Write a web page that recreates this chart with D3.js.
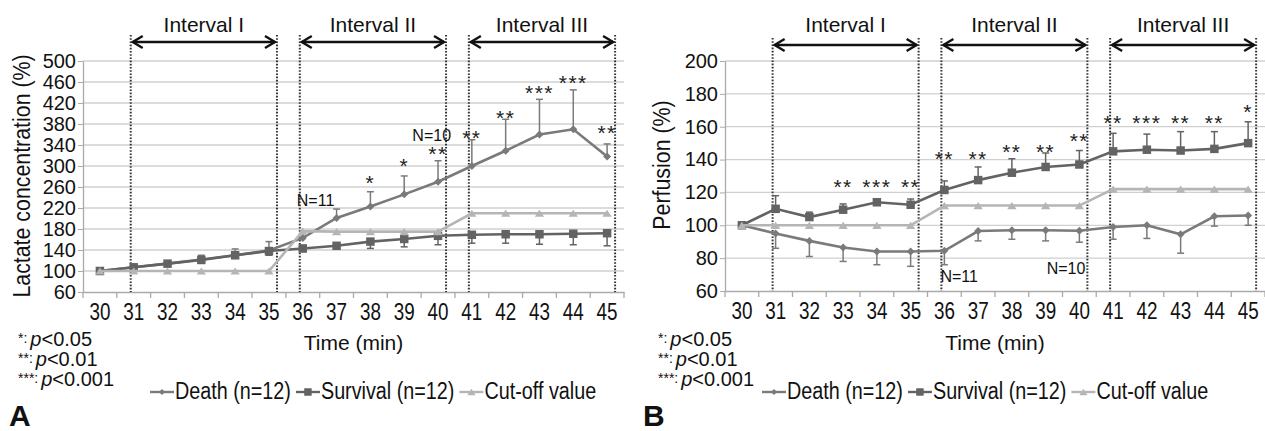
<!DOCTYPE html>
<html>
<head>
<meta charset="utf-8">
<script src="https://cdn.jsdelivr.net/npm/d3@7"></script>
<style>
  body { margin: 0; background: #fff; }
  svg { font-family: "Liberation Sans", Arial, sans-serif; }
</style>
</head>
<body>
<svg id="chart" width="1265" height="431"></svg>
<script>
/* CONSTANTS AND GLOBALS */
const width = 1265,
  height = 431;

// time axis (min)
const times = ["30", "31", "32", "33", "34", "35", "36", "37", "38", "39", "40", "41", "42", "43", "44", "45"];

// panel A : lactate concentration (%)
const lactateTicks = [60, 100, 140, 180, 220, 260, 300, 340, 380, 420, 460, 500];
const lactateDeath = [100, 107, 114, 122, 130, 139, 163, 201, 223, 246, 270, 300, 329, 360, 370, 318];
const lactateDeathErr = [0, 3, 4, 8, 12, 17, 12, 17, 28, 35, 40, 50, 60, 67, 75, 24];
const lactateSurvival = [100, 107, 114, 121, 130, 138, 143, 148, 156, 161, 167, 169, 170, 170, 171, 172];
const lactateSurvivalErr = [0, 3, 4, 5, 6, 8, 6, 6, 13, 15, 17, 16, 17, 19, 21, 24];
const lactateCutoff = [100, 100, 100, 100, 100, 100, 176, 175, 175, 175, 175, 210, 210, 210, 210, 210];
const lactateStars = ["", "", "", "", "", "", "", "", "*", "*", "**", "**", "**", "***", "***", "**"];
const lactateStarLevel = [null, null, null, null, null, null, null, null, 254, 287, 309, 340, 378, 426, 445, 349];

// panel B : perfusion (%)
const perfusionTicks = [60, 80, 100, 120, 140, 160, 180, 200];
const perfusionDeath = [100, 95, 90.5, 86.5, 84, 84, 84.5, 96.5, 97, 97, 96.7, 99, 100, 94.5, 105.5, 106];
const perfusionDeathErr = [0, 9, 9.5, 8.5, 8, 9, 8.5, 6, 5.5, 6.5, 7, 7.5, 8, 11.5, 6, 6];
const perfusionSurvival = [100, 110, 105, 109.5, 114, 112.5, 121.5, 127.5, 132, 135.5, 137, 145, 146, 145.5, 146.5, 150];
const perfusionSurvivalErr = [0, 8, 3, 3.5, 2, 3.5, 5.5, 8, 8.5, 8.5, 8.5, 11, 9.5, 11.5, 10.5, 13];
const perfusionCutoff = [100, 100, 100, 100, 100, 100, 112, 112, 112, 112, 112, 122, 122, 122, 122, 122];
const perfusionStars = ["", "", "", "**", "***", "**", "**", "**", "**", "**", "**", "**", "***", "**", "**", "*"];
const perfusionStarLevel = [null, null, null, 119, 119, 119, 136, 136, 140.5, 140.5, 147, 158, 158, 158, 158, 164.5];

// intervals, legend, significance notes
const intervalLabels = ["Interval I", "Interval II", "Interval III"];
const intervalFrom = ["31", "36", "41"];
const intervalTo = ["35", "40", "45"];
const legendLabels = ["Death (n=12)", "Survival (n=12)", "Cut-off value"];
const noteStars = ["*:", "**:", "***:"];
const noteValues = ["<0.05", "<0.01", "<0.001"];

/* STYLES */
const seriesStyle = [
  { color: "#7a7a7a", marker: "diamond" },   // death
  { color: "#636363", marker: "square" },    // survival
  { color: "#b5b5b5", marker: "triangle" }   // cut-off
];

const diamond = { draw(ctx, size) { const r = Math.sqrt(size) / 2; ctx.moveTo(0, -r); ctx.lineTo(r, 0); ctx.lineTo(0, r); ctx.lineTo(-r, 0); ctx.closePath(); } };
const triangle = { draw(ctx, size) { const r = Math.sqrt(size) / 2; ctx.moveTo(0, -r * 0.85); ctx.lineTo(r * 1.1, r * 0.85); ctx.lineTo(-r * 1.1, r * 0.85); ctx.closePath(); } };
const markerType = { diamond: diamond, square: d3.symbolSquare, triangle: triangle };

/* PANELS */
const panels = [
  {
    letter: "A", letterX: 9, left: 83, right: 624, top: 61, bottom: 292, arrowY: 42,
    yTicks: lactateTicks, yTitle: "Lactate concentration (%)", yTitleX: 22, yTitleY: 176,
    series: [
      { values: lactateDeath, err: lactateDeathErr, dir: 1 },
      { values: lactateSurvival, err: lactateSurvivalErr, dir: -1 },
      { values: lactateCutoff, err: null, dir: 0 }
    ],
    stars: lactateStars, starLevel: lactateStarLevel,
    nLabels: [
      { text: "N=11", t: "36", v: 224, anchor: "start", dx: -6 },
      { text: "N=10", t: "40", v: 348, anchor: "end", dx: 13 }
    ],
    noteX: 18, legendX: 150
  },
  {
    letter: "B", letterX: 643, left: 725, right: 1265, top: 61, bottom: 291, arrowY: 45,
    yTicks: perfusionTicks, yTitle: "Perfusion (%)", yTitleX: 662, yTitleY: 165,
    series: [
      { values: perfusionDeath, err: perfusionDeathErr, dir: -1 },
      { values: perfusionSurvival, err: perfusionSurvivalErr, dir: 1 },
      { values: perfusionCutoff, err: null, dir: 0 }
    ],
    stars: perfusionStars, starLevel: perfusionStarLevel,
    nLabels: [
      { text: "N=11", t: "36", v: 65.5, anchor: "start", dx: -4 },
      { text: "N=10", t: "40", v: 70.3, anchor: "end", dx: 6 }
    ],
    noteX: 658, legendX: 762
  }
];

let svg;

/* INIT */
function init() {
  svg = d3.select("#chart").attr("width", width).attr("height", height);
  panels.forEach(drawPanel);
}

/* DRAW ONE PANEL */
function drawPanel(cfg) {
  const g = svg.append("g");

  const xScale = d3.scaleBand().domain(times).range([cfg.left, cfg.right]);
  const yScale = d3.scaleLinear().domain(d3.extent(cfg.yTicks)).range([cfg.bottom, cfg.top]);
  const cx = t => xScale(t) + xScale.bandwidth() / 2;

  // + GRIDLINES
  g.append("g")
    .selectAll("line")
    .data(cfg.yTicks.slice(1))
    .join("line")
    .attr("x1", cfg.left).attr("x2", cfg.right)
    .attr("y1", d => yScale(d)).attr("y2", d => yScale(d))
    .attr("stroke", "#d0d0d0").attr("stroke-width", 1.3);

  // + Y AXIS
  const yAxis = d3.axisLeft(yScale).tickValues(cfg.yTicks).tickSize(5).tickSizeOuter(0).tickPadding(2);
  g.append("g")
    .attr("transform", `translate(${cfg.left},0)`)
    .call(yAxis)
    .call(a => a.select(".domain").attr("stroke", "#aaa").attr("stroke-width", 1.3))
    .call(a => a.selectAll(".tick line").attr("stroke", "#aaa"))
    .call(a => a.selectAll(".tick text")
      .attr("font-size", 20).attr("fill", "#111")
      .attr("font-family", "'Liberation Sans', Arial, sans-serif"));

  // + X AXIS (tall, condensed labels)
  const xAxis = d3.axisBottom(xScale).tickSize(0).tickSizeOuter(0).tickPadding(12);
  g.append("g")
    .attr("transform", `translate(0,${cfg.bottom})`)
    .call(xAxis)
    .call(a => a.select(".domain").attr("stroke", "#aaa").attr("stroke-width", 1.3))
    .call(a => a.selectAll(".tick text")
      .attr("font-size", 23).attr("fill", "#111")
      .attr("font-family", "'Liberation Sans', Arial, sans-serif")
      .attr("transform", "scale(0.82,1)"));

  // boundary ticks between the time bands
  g.append("g")
    .selectAll("line")
    .data(times.map(t => xScale(t)).concat([cfg.right]))
    .join("line")
    .attr("x1", d => d).attr("x2", d => d)
    .attr("y1", cfg.bottom).attr("y2", cfg.bottom + 6)
    .attr("stroke", "#aaa").attr("stroke-width", 1.3);

  // + INTERVALS (dotted bounds, arrows, labels)
  const intervals = intervalLabels.map((label, i) => ({
    label,
    x0: cx(intervalFrom[i]) - 3,
    x1: cx(intervalTo[i]) + 8
  }));

  const iv = g.append("g").selectAll("g").data(intervals).join("g");

  iv.selectAll("line.bound")
    .data(d => [d.x0, d.x1])
    .join("line")
    .attr("class", "bound")
    .attr("x1", d => d).attr("x2", d => d)
    .attr("y1", cfg.arrowY - 7).attr("y2", cfg.bottom)
    .attr("stroke", "#333").attr("stroke-width", 2).attr("stroke-dasharray", "1.6,1.6");

  iv.append("line")
    .attr("x1", d => d.x0 + 2).attr("x2", d => d.x1 - 2)
    .attr("y1", cfg.arrowY).attr("y2", cfg.arrowY)
    .attr("stroke", "#111").attr("stroke-width", 2.4);

  iv.append("path")
    .attr("d", d => `M${d.x0 + 12},${cfg.arrowY - 6}L${d.x0 + 2},${cfg.arrowY}L${d.x0 + 12},${cfg.arrowY + 6}` +
      `M${d.x1 - 12},${cfg.arrowY - 6}L${d.x1 - 2},${cfg.arrowY}L${d.x1 - 12},${cfg.arrowY + 6}`)
    .attr("fill", "none").attr("stroke", "#111").attr("stroke-width", 2.4);

  iv.append("text")
    .attr("x", d => (d.x0 + d.x1) / 2)
    .attr("y", 32)
    .attr("text-anchor", "middle")
    .attr("font-size", 21).attr("fill", "#111")
    .text(d => d.label);

  // + SERIES
  cfg.series.forEach((s, si) => {
    const style = seriesStyle[si];
    const pts = times.map((t, i) => ({ t, v: s.values[i], e: s.err ? s.err[i] : 0 }));
    const sg = g.append("g");

    // error bars (one side only)
    if (s.err) {
      const eb = sg.selectAll("g.err").data(pts.filter(d => d.e > 0)).join("g").attr("class", "err");
      eb.append("line")
        .attr("x1", d => cx(d.t)).attr("x2", d => cx(d.t))
        .attr("y1", d => yScale(d.v)).attr("y2", d => yScale(d.v + s.dir * d.e))
        .attr("stroke", style.color).attr("stroke-width", 1.5);
      eb.append("line")
        .attr("x1", d => cx(d.t) - 3.5).attr("x2", d => cx(d.t) + 3.5)
        .attr("y1", d => yScale(d.v + s.dir * d.e)).attr("y2", d => yScale(d.v + s.dir * d.e))
        .attr("stroke", style.color).attr("stroke-width", 1.5);
    }

    const line = d3.line().x(d => cx(d.t)).y(d => yScale(d.v));
    sg.append("path")
      .datum(pts)
      .attr("d", line)
      .attr("fill", "none")
      .attr("stroke", style.color)
      .attr("stroke-width", 2.6);

    sg.selectAll("path.mark")
      .data(pts)
      .join("path")
      .attr("class", "mark")
      .attr("transform", d => `translate(${cx(d.t)},${yScale(d.v)})`)
      .attr("d", d3.symbol().type(markerType[style.marker]).size(style.marker === "diamond" ? 64 : 72))
      .attr("fill", style.color);
  });

  // + SIGNIFICANCE STARS
  g.append("g")
    .selectAll("text")
    .data(times.map((t, i) => ({ t, s: cfg.stars[i], v: cfg.starLevel[i] })).filter(d => d.s))
    .join("text")
    .attr("x", d => cx(d.t))
    .attr("y", d => yScale(d.v))
    .attr("text-anchor", "middle")
    .attr("font-size", 21)
    .attr("letter-spacing", 1.5)
    .attr("fill", "#222")
    .text(d => d.s);

  // + N LABELS
  g.append("g")
    .selectAll("text")
    .data(cfg.nLabels)
    .join("text")
    .attr("x", d => cx(d.t) + d.dx)
    .attr("y", d => yScale(d.v))
    .attr("text-anchor", d => d.anchor)
    .attr("font-size", 16).attr("fill", "#111")
    .text(d => d.text);

  // + AXIS TITLES
  g.append("text")
    .attr("transform", `translate(${cfg.yTitleX},${cfg.yTitleY}) rotate(-90) scale(0.89,1)`)
    .attr("text-anchor", "middle")
    .attr("dy", "0.35em")
    .attr("font-size", 24).attr("fill", "#111")
    .text(cfg.yTitle);

  g.append("text")
    .attr("x", (cfg.left + cfg.right) / 2)
    .attr("y", 350)
    .attr("text-anchor", "middle")
    .attr("font-size", 21).attr("fill", "#111")
    .text("Time (min)");

  // + P-VALUE NOTES
  const notes = g.append("g")
    .selectAll("text")
    .data(noteStars.map((s, i) => ({ s, v: noteValues[i] })))
    .join("text")
    .attr("x", cfg.noteX)
    .attr("y", (d, i) => 346 + i * 20)
    .attr("font-size", 20).attr("fill", "#111");
  notes.append("tspan").attr("font-size", 14).attr("dy", -3).text(d => d.s);
  notes.append("tspan").attr("dy", 3).attr("dx", 3).attr("font-style", "italic").text("p");
  notes.append("tspan").text(d => d.v);

  // + LEGEND (condensed text)
  const legend = g.append("g").attr("transform", `translate(${cfg.legendX},392)`);
  let xPos = 0;
  legendLabels.forEach((label, i) => {
    const style = seriesStyle[i];
    const item = legend.append("g").attr("transform", `translate(${xPos},0)`);
    item.append("line")
      .attr("x1", 0).attr("x2", 24)
      .attr("stroke", style.color).attr("stroke-width", 2.4);
    item.append("path")
      .attr("transform", "translate(12,0)")
      .attr("d", d3.symbol().type(markerType[style.marker]).size(style.marker === "diamond" ? 36 : 56))
      .attr("fill", style.color);
    const txt = item.append("text")
      .attr("transform", "translate(25,7) scale(0.86,1)")
      .attr("font-size", 23).attr("fill", "#111")
      .text(label);
    xPos += 25 + txt.node().getComputedTextLength() * 0.86 + 5;
  });

  // + PANEL LETTER
  g.append("text")
    .attr("x", cfg.letterX)
    .attr("y", 426)
    .attr("font-size", 30).attr("font-weight", "bold").attr("fill", "#111")
    .text(cfg.letter);
}

init();
</script>
</body>
</html>
